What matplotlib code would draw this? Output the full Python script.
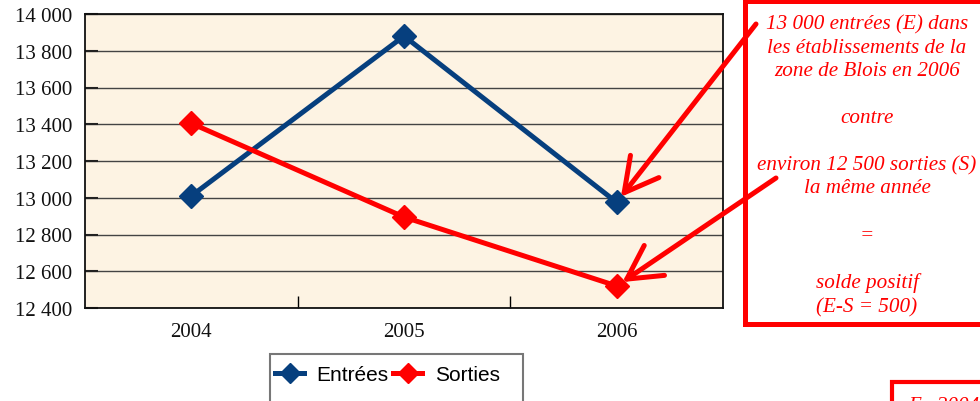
import matplotlib
matplotlib.use("Agg")
import matplotlib.pyplot as plt
from matplotlib.patches import Rectangle
from matplotlib.ticker import FuncFormatter, FixedLocator

years = ["2004", "2005", "2006"]
entrees = [13010, 13880, 12975]
sorties = [13405, 12895, 12520]
y_ticks = [12400, 12600, 12800, 13000, 13200, 13400, 13600, 13800, 14000]
note_text = ("13 000 entrées (E) dans\nles établissements de la\nzone de Blois en 2006\n\ncontre\n\n"
             "environ 12 500 sorties (S)\nla même année\n\n=\n\nsolde positif\n(E-S = 500)")
note2_text = "En 2004"

W, H = 980, 402
fig = plt.figure(figsize=(W / 100, H / 100), dpi=100)
fig.patch.set_facecolor("white")

def fx(px):
    return px / W

def fy(py):
    return 1 - py / H

ax = fig.add_axes([fx(85), fy(309), fx(723) - fx(85), fy(15) - fy(309)])
ax.set_facecolor("#FDF3E3")
ax.set_zorder(2)

x = list(range(len(years)))
blue = "#063F7E"
red = "#FF0000"
l1, = ax.plot(x, entrees, color=blue, lw=3.6, marker="D", markersize=12.5, zorder=4,
              solid_joinstyle="miter")
l2, = ax.plot(x, sorties, color=red, lw=3.6, marker="D", markersize=12.5, zorder=4,
              solid_joinstyle="miter")

ax.set_xlim(-0.5, len(years) - 0.5)
ax.set_ylim(y_ticks[0], y_ticks[-1])
ax.set_yticks(y_ticks)
ax.yaxis.set_major_formatter(FuncFormatter(lambda v, p: f"{v:,.0f}".replace(",", " ")))
ax.grid(axis="y", color="#444444", lw=1.0, zorder=1)
ax.set_axisbelow(True)

ax.set_xticks(x)
ax.set_xticklabels(years)
ax.xaxis.set_minor_locator(FixedLocator([i + 0.5 for i in x[:-1]]))
ax.tick_params(axis="x", which="major", length=0, pad=10)
ax.tick_params(axis="x", which="minor", direction="in", length=9, width=1.0, color="black")
ax.tick_params(axis="y", which="major", direction="in", length=9.5, width=1.5, color="#222222", pad=9)
for lab in ax.get_xticklabels() + ax.get_yticklabels():
    lab.set_fontfamily("Liberation Serif")
    lab.set_fontsize(15)
    lab.set_color("#111111")

for s in ax.spines.values():
    s.set_color("#111111")
    s.set_linewidth(1.3)

# Legend
fig.patches.append(Rectangle((fx(270), fy(420)), fx(523) - fx(270), fy(355) - fy(420),
                             transform=fig.transFigure, facecolor="white",
                             edgecolor="#777777", lw=1.5, zorder=1))
leg = fig.legend([l1, l2], ["Entrées", "Sorties"], loc="center left",
                 bbox_to_anchor=(fx(275), fy(376)), ncol=2, frameon=False,
                 borderaxespad=0, borderpad=0, handlelength=1.4, handletextpad=0.6,
                 columnspacing=0.2, markerscale=0.85,
                 prop={"family": "Liberation Sans", "size": 15})
leg.set_zorder(3)

# Annotation box
fig.patches.append(Rectangle((fx(745), fy(325)), fx(1000) - fx(745), fy(2) - fy(325),
                             transform=fig.transFigure, facecolor="white",
                             edgecolor=red, lw=3.6, zorder=1))
fig.text(fx(867), fy(166), note_text, ha="center", va="center", color=red,
         fontfamily="Liberation Serif", fontstyle="italic", fontsize=15.2,
         linespacing=1.315, zorder=3)

# Second (cut-off) box
fig.patches.append(Rectangle((fx(892), fy(420)), fx(1000) - fx(892), fy(383) - fy(420),
                             transform=fig.transFigure, facecolor="white",
                             edgecolor=red, lw=3.0, zorder=1))
fig.text(fx(908), fy(397), note2_text, ha="left", va="top", color=red,
         fontfamily="Liberation Serif", fontstyle="italic", fontsize=15.2, zorder=3)

# Arrows
arrow_kw = dict(arrowstyle="->,head_length=1.2,head_width=0.65", color=red, lw=3.6,
                shrinkA=0, shrinkB=5, mutation_scale=20)
ax.annotate("", xy=(2, entrees[2]), xycoords="data",
            xytext=(fx(756), fy(25)), textcoords="figure fraction",
            arrowprops=arrow_kw, annotation_clip=False, zorder=5)
ax.annotate("", xy=(2, sorties[2]), xycoords="data",
            xytext=(fx(776), fy(179)), textcoords="figure fraction",
            arrowprops=arrow_kw, annotation_clip=False, zorder=5)

fig.savefig("out.png", dpi=100)
